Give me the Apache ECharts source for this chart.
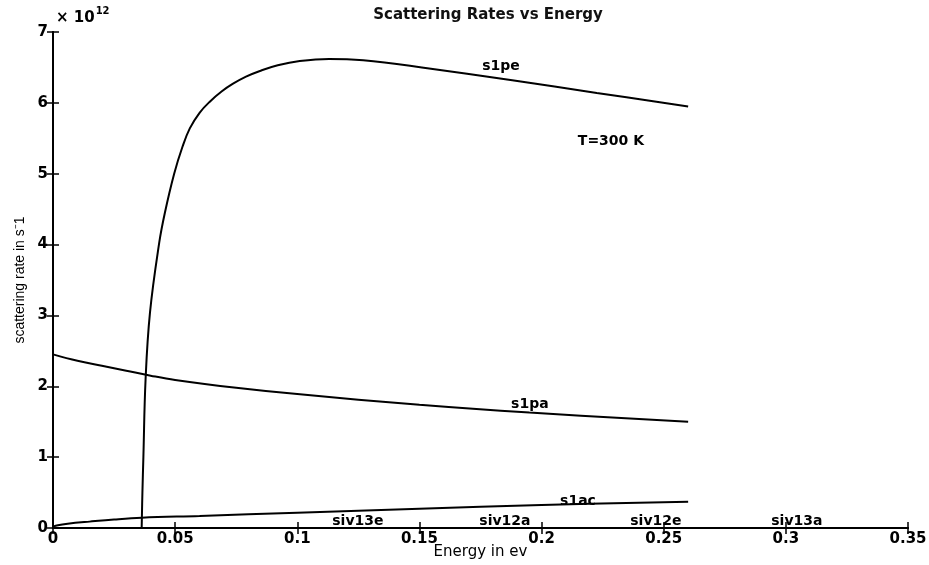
<!DOCTYPE html>
<html>
<head>
<meta charset="utf-8">
<script src="https://cdn.jsdelivr.net/npm/echarts@6/dist/echarts.min.js"></script>
<style>
  html, body { margin: 0; padding: 0; background: #fff; }
  #chart { width: 929px; height: 565px; }
</style>
</head>
<body>
<div id="chart"></div>
<script>
// Energy (eV) and scattering rate (x 1e12 s^-1) for each mechanism
const s1peEnergy = [0.0363, 0.0366, 0.0370, 0.0379, 0.0397, 0.0435, 0.0458, 0.0496, 0.053, 0.056, 0.060, 0.0643, 0.069, 0.0737, 0.079, 0.0847, 0.092, 0.101, 0.113, 0.127, 0.151, 0.188, 0.2226, 0.26];
const s1peRate   = [0,      0.5,    1.0,    2.1,    3.04,   4.03,   4.45,   5.0,    5.38,  5.64,  5.86,  6.02,   6.16,  6.27,   6.37,  6.45,   6.53,  6.59,  6.62,  6.60,  6.50,  6.32,  6.14,   5.95];

const s1paEnergy = [0, 0.01, 0.02, 0.03, 0.04, 0.05, 0.075, 0.1, 0.15, 0.195, 0.26];
const s1paRate   = [2.45, 2.36, 2.29, 2.22, 2.15, 2.09, 1.98, 1.89, 1.74, 1.63, 1.50];

const s1acEnergy = [0, 0.002, 0.006, 0.015, 0.025, 0.0363, 0.06, 0.1, 0.15, 0.2, 0.26];
const s1acRate   = [0.02, 0.04, 0.06, 0.09, 0.12, 0.145, 0.17, 0.215, 0.27, 0.325, 0.37];

// Text annotations placed in data coordinates
const noteText = ['s1pe', 'T=300 K', 's1pa', 's1ac', 'siv13e', 'siv12a', 'siv12e', 'siv13a'];
const noteX    = [0.1834, 0.2284, 0.1952, 0.2149, 0.1248, 0.185, 0.2468, 0.3045];
const noteY    = [6.52, 5.46, 1.75, 0.38, 0.10, 0.10, 0.10, 0.10];

const xTicks = { min: 0, max: 0.35, interval: 0.05 };
const yTicks = { min: 0, max: 7, interval: 1 };

const zip = (xs, ys) => xs.map((x, i) => [x, ys[i]]);

const axisFont = 'DejaVu Sans';
const lineStyle = { color: '#000', width: 2 };

const inTick = { show: true, inside: true, length: 6, lineStyle: { color: '#000', width: 1.5 } };

const chart = echarts.init(document.getElementById('chart'), null, { renderer: 'canvas' });
chart.setOption({
  backgroundColor: '#fff',
  animation: false,
  title: {
    text: 'Scattering Rates vs Energy',
    left: 483, top: 3, textAlign: 'center',
    textStyle: { fontFamily: axisFont, fontSize: 15, fontWeight: 'bold', color: '#111' }
  },
  grid: { left: 53, right: 21, top: 32, bottom: 37, outerBoundsMode: 'none', containLabel: false },
  xAxis: [{
    type: 'value', position: 'bottom',
    min: xTicks.min, max: xTicks.max, interval: xTicks.interval,
    name: 'Energy in ev', nameLocation: 'middle', nameGap: 17, nameMoveOverlap: false,
    nameTextStyle: { fontFamily: axisFont, fontSize: 15, color: '#000' },
    axisLine: { show: true, lineStyle: { color: '#000', width: 2 } },
    axisTick: inTick,
    axisLabel: { fontFamily: axisFont, fontSize: 15, fontWeight: 'bold', color: '#000', margin: 4,
                 formatter: v => String(+v.toFixed(2)) },
    splitLine: { show: false }
  }, {
    type: 'value', position: 'top',
    min: xTicks.min, max: xTicks.max, interval: xTicks.interval,
    axisLine: { show: true, lineStyle: { color: '#000', width: 2 } },
    axisTick: inTick, axisLabel: { show: false }, splitLine: { show: false }
  }],
  yAxis: [{
    type: 'value', position: 'left',
    min: yTicks.min, max: yTicks.max, interval: yTicks.interval,
    name: 'scattering rate in s\u207B1', nameLocation: 'middle', nameGap: 26, nameRotate: 90,
    nameMoveOverlap: false,
    nameTextStyle: { fontFamily: 'Liberation Sans', fontSize: 14, color: '#000' },
    axisLine: { show: true, lineStyle: { color: '#000', width: 2 } },
    axisTick: inTick,
    axisLabel: { fontFamily: axisFont, fontSize: 15, fontWeight: 'bold', color: '#000', margin: 5 },
    splitLine: { show: false }
  }, {
    type: 'value', position: 'right',
    min: yTicks.min, max: yTicks.max, interval: yTicks.interval,
    axisLine: { show: true, lineStyle: { color: '#000', width: 2 } },
    axisTick: inTick, axisLabel: { show: false }, splitLine: { show: false }
  }],
  graphic: [{
    type: 'text', left: 56, top: 6,
    style: {
      text: '{a|\u00D7 10}{b|12}',
      rich: {
        a: { fontFamily: axisFont, fontSize: 15, fontWeight: 'bold', fill: '#000', lineHeight: 20, verticalAlign: 'bottom' },
        b: { fontFamily: axisFont, fontSize: 10, fontWeight: 'bold', fill: '#000', lineHeight: 20, verticalAlign: 'top', padding: [0, 0, 9, 1] }
      }
    }
  }],
  series: [
    { name: 's1pe', type: 'line', data: zip(s1peEnergy, s1peRate), showSymbol: false,
      smooth: 0.4, lineStyle: lineStyle, z: 3 },
    { name: 's1pa', type: 'line', data: zip(s1paEnergy, s1paRate), showSymbol: false,
      smooth: 0.4, lineStyle: lineStyle, z: 3 },
    { name: 's1ac', type: 'line', data: zip(s1acEnergy, s1acRate), showSymbol: false,
      smooth: 0.4, lineStyle: lineStyle, z: 3 },
    { name: 'notes', type: 'scatter', symbolSize: 0, z: 4,
      itemStyle: { opacity: 1 },
      data: noteText.map((t, i) => ({ value: [noteX[i], noteY[i]], name: t })),
      label: { show: true, position: 'inside', formatter: p => p.name,
               fontFamily: axisFont, fontSize: 14, fontWeight: 'bold', color: '#000', opacity: 1 } }
  ]
});
</script>
</body>
</html>
